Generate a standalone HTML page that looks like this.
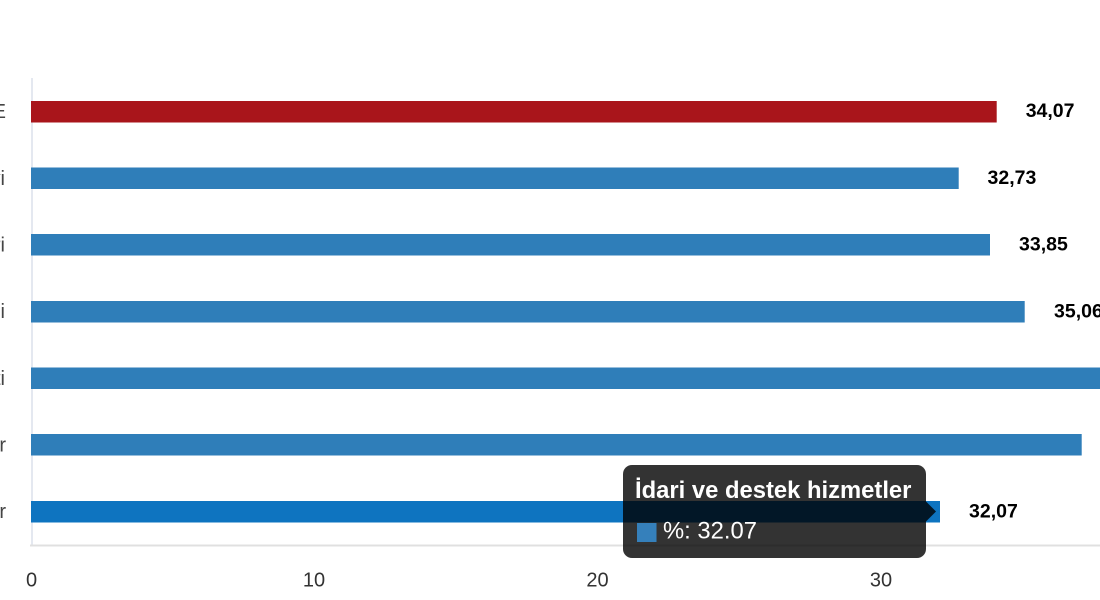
<!DOCTYPE html>
<html>
<head>
<meta charset="utf-8">
<style>
  html, body { margin: 0; padding: 0; background: #ffffff; }
  body { width: 1100px; height: 600px; overflow: hidden; }
  svg { display: block; }
  .cat { font-family: "Liberation Sans", "DejaVu Sans", sans-serif; font-size: 20px; fill: #444; }
  .tick { font-family: "Liberation Sans", "DejaVu Sans", sans-serif; font-size: 20px; fill: #333; }
  .val { font-family: "Liberation Sans", Arial, sans-serif; font-size: 19.5px; font-weight: bold; fill: #000; }
</style>
</head>
<body>
<svg width="1100" height="600" viewBox="0 0 1100 600" xmlns="http://www.w3.org/2000/svg">
  <rect x="0" y="0" width="1100" height="600" fill="#ffffff"/>

  <!-- axes -->
  <line x1="32" y1="78" x2="32" y2="545" stroke="#e4e8f0" stroke-width="2"/>
  <line x1="30" y1="545.5" x2="1100" y2="545.5" stroke="#e0e0e0" stroke-width="2"/>

  <!-- category labels (clipped at left edge) -->
  <text class="cat" x="6" y="118" text-anchor="end">TÜRKİYE</text>
  <text class="cat" x="5" y="185" text-anchor="end">Sanayi</text>
  <text class="cat" x="5" y="251.5" text-anchor="end">Hizmetleri</text>
  <text class="cat" x="5" y="318" text-anchor="end">Bilgi ve iletişimi</text>
  <text class="cat" x="5" y="385" text-anchor="end">Finans faaliyeti</text>
  <text class="cat" x="6" y="451.5" text-anchor="end">Ticari hizmetler</text>
  <text class="cat" x="6" y="518" text-anchor="end">İdari ve destek hizmetler</text>

  <!-- bars -->
  <rect x="31" y="101" width="965.7" height="21.5" fill="#a9151b"/>
  <rect x="31" y="167.5" width="927.7" height="21.5" fill="#2f7eb9"/>
  <rect x="31" y="234" width="959" height="21.5" fill="#2f7eb9"/>
  <rect x="31" y="301" width="993.7" height="21.5" fill="#2f7eb9"/>
  <rect x="31" y="367.5" width="1080" height="21.5" fill="#2f7eb9"/>
  <rect x="31" y="434" width="1050.7" height="21.5" fill="#2f7eb9"/>
  <rect x="31" y="501" width="909" height="21.5" fill="#0e74c0"/>

  <!-- value labels -->
  <text class="val" x="1025.7" y="117">34,07</text>
  <text class="val" x="987.5" y="184">32,73</text>
  <text class="val" x="1019" y="250.7">33,85</text>
  <text class="val" x="1054" y="317.5">35,06</text>
  <text class="val" x="1110" y="384">38,00</text>
  <text class="val" x="969" y="517.5">32,07</text>

  <!-- x tick labels -->
  <text class="tick" x="31.5" y="586.5" text-anchor="middle">0</text>
  <text class="tick" x="314" y="586.5" text-anchor="middle">10</text>
  <text class="tick" x="597.5" y="586.5" text-anchor="middle">20</text>
  <text class="tick" x="881" y="586.5" text-anchor="middle">30</text>

  <!-- tooltip -->
  <g>
    <rect x="623" y="465" width="303" height="93" rx="9" ry="9" fill="rgba(0,0,0,0.8)"/>
    <polygon points="926,501.5 936,511.5 926,521.5" fill="rgba(0,0,0,0.8)"/>
    <text x="635" y="498" font-family="Liberation Sans, Arial, sans-serif" font-size="23.8" font-weight="bold" fill="#ffffff">İdari ve destek hizmetler</text>
    <rect x="637" y="523" width="19.5" height="19" fill="#3580bb"/>
    <text x="663" y="538.5" font-family="Liberation Sans, Arial, sans-serif" font-size="23.8" fill="#ffffff">%: 32.07</text>
  </g>
</svg>
</body>
</html>
